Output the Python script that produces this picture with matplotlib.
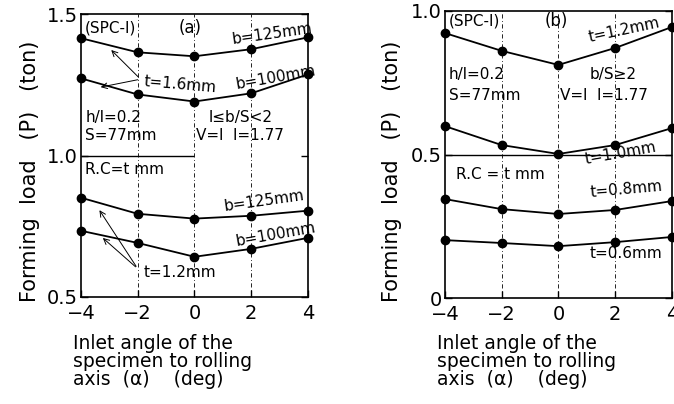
import matplotlib
matplotlib.use("Agg")
import matplotlib.pyplot as plt

# inlet angle (deg)
alpha = [-4, -2, 0, 2, 4]

# panel (a): 1 <= b/S < 2
a_t16_b125 = [1.415, 1.365, 1.351, 1.376, 1.418]
a_t16_b100 = [1.273, 1.216, 1.191, 1.220, 1.287]
a_t12_b125 = [0.851, 0.794, 0.777, 0.787, 0.805]
a_t12_b100 = [0.734, 0.691, 0.642, 0.670, 0.709]

# panel (b): b/S >= 2
b_t12 = [0.923, 0.861, 0.812, 0.871, 0.944]
b_t10 = [0.599, 0.533, 0.502, 0.533, 0.592]
b_t08 = [0.345, 0.310, 0.293, 0.307, 0.338]
b_t06 = [0.202, 0.192, 0.181, 0.195, 0.213]

xticks = [-4, -2, 0, 2, 4]
xticklabels = ["\u22124", "\u22122", "0", "2", "4"]

plt.rcParams['font.family'] = 'DejaVu Sans'

fig = plt.figure(figsize=(6.74, 4.04), dpi=100)
ax1 = fig.add_axes([0.120, 0.265, 0.337, 0.700])
ax2 = fig.add_axes([0.660, 0.262, 0.337, 0.711])


def style(ax, ylim, yticks, yticklabels):
    ax.set_xlim(-4, 4)
    ax.set_ylim(*ylim)
    ax.set_xticks(xticks)
    ax.set_xticklabels(xticklabels, fontsize=14)
    ax.set_yticks(yticks)
    ax.set_yticklabels(yticklabels, fontsize=14)
    ax.tick_params(direction='in', length=5, width=1, pad=2, right=True)
    ax.tick_params(axis='x', pad=5)
    for s in ax.spines.values():
        s.set_linewidth(1.2)
    for x in [-2, 0, 2]:
        ax.axvline(x, color='black', lw=0.6, ls=(0, (5, 3, 1, 3)), zorder=0)


def curve(ax, y):
    ax.plot(alpha, y, color='black', lw=1.3, marker='o', markersize=6,
            clip_on=False, zorder=3)


style(ax1, (0.5, 1.5), [0.5, 1.0, 1.5], ["0.5", "1.0", "1.5"])
style(ax2, (0, 1.0), [0, 0.5, 1.0], ["0", "0.5", "1.0"])

ax1.hlines(1.0, -4, 0, color='black', lw=1.0)
ax2.axhline(0.5, color='black', lw=1.0)

for y in [a_t16_b125, a_t16_b100, a_t12_b125, a_t12_b100]:
    curve(ax1, y)
for y in [b_t12, b_t10, b_t08, b_t06]:
    curve(ax2, y)

fs = 11
# panel (a) annotations
ax1.text(-3.85, 1.45, "(SPC-I)", fontsize=fs, va='center')
ax1.text(-0.55, 1.45, "(a)", fontsize=12, va='center')
ax1.text(1.3, 1.43, "b=125mm", fontsize=fs, va='center', rotation=8)
ax1.text(-1.8, 1.25, "t=1.6mm", fontsize=fs, va='center', rotation=-5)
ax1.text(1.4, 1.275, "b=100mm", fontsize=fs, va='center', rotation=10)
ax1.text(-3.85, 1.135, "h/l=0.2", fontsize=fs, va='center')
ax1.text(-3.85, 1.07, "S=77mm", fontsize=fs, va='center')
ax1.text(0.5, 1.135, "l\u2264b/S<2", fontsize=fs, va='center')
ax1.text(0.05, 1.07, "V=l  l=1.77", fontsize=fs, va='center')
ax1.text(-3.85, 0.95, "R.C=t mm", fontsize=fs, va='center')
ax1.text(1.0, 0.84, "b=125mm", fontsize=fs, va='center', rotation=8)
ax1.text(1.4, 0.72, "b=100mm", fontsize=fs, va='center', rotation=10)
ax1.text(-1.8, 0.585, "t=1.2mm", fontsize=fs, va='center')
for xy in [(-3.0, 1.38), (-3.4, 1.24)]:
    ax1.annotate("", xy=xy, xytext=(-1.9, 1.27),
                 arrowprops=dict(arrowstyle='->', lw=0.7, color='black'))
for xy in [(-3.4, 0.815), (-3.3, 0.715)]:
    ax1.annotate("", xy=xy, xytext=(-2.0, 0.6),
                 arrowprops=dict(arrowstyle='->', lw=0.7, color='black'))

# panel (b) annotations
ax2.text(-3.85, 0.965, "(SPC-I)", fontsize=fs, va='center')
ax2.text(-0.5, 0.965, "(b)", fontsize=12, va='center')
ax2.text(1.0, 0.935, "t=1.2mm", fontsize=fs, va='center', rotation=12)
ax2.text(-3.85, 0.78, "h/l=0.2", fontsize=fs, va='center')
ax2.text(-3.85, 0.705, "S=77mm", fontsize=fs, va='center')
ax2.text(1.1, 0.78, "b/S\u22652", fontsize=fs, va='center')
ax2.text(0.05, 0.705, "V=l  l=1.77", fontsize=fs, va='center')
ax2.text(0.9, 0.505, "t=1.0mm", fontsize=fs, va='center', rotation=10)
ax2.text(-3.6, 0.43, "R.C = t mm", fontsize=fs, va='center')
ax2.text(1.1, 0.38, "t=0.8mm", fontsize=fs, va='center', rotation=5)
ax2.text(1.1, 0.155, "t=0.6mm", fontsize=fs, va='center')

# axis labels
for x0, xl in [(0.045, 0.108), (0.582, 0.648)]:
    fig.text(x0, 0.575, "Forming  load   (P)   (ton)", rotation=90,
             fontsize=15, ha='center', va='center')
    fig.text(xl, 0.105, "Inlet angle of the\nspecimen to rolling\naxis  (\u03b1)    (deg)",
             fontsize=13.5, ha='left', va='center', linespacing=0.95)

fig.savefig("out.png", dpi=100)
